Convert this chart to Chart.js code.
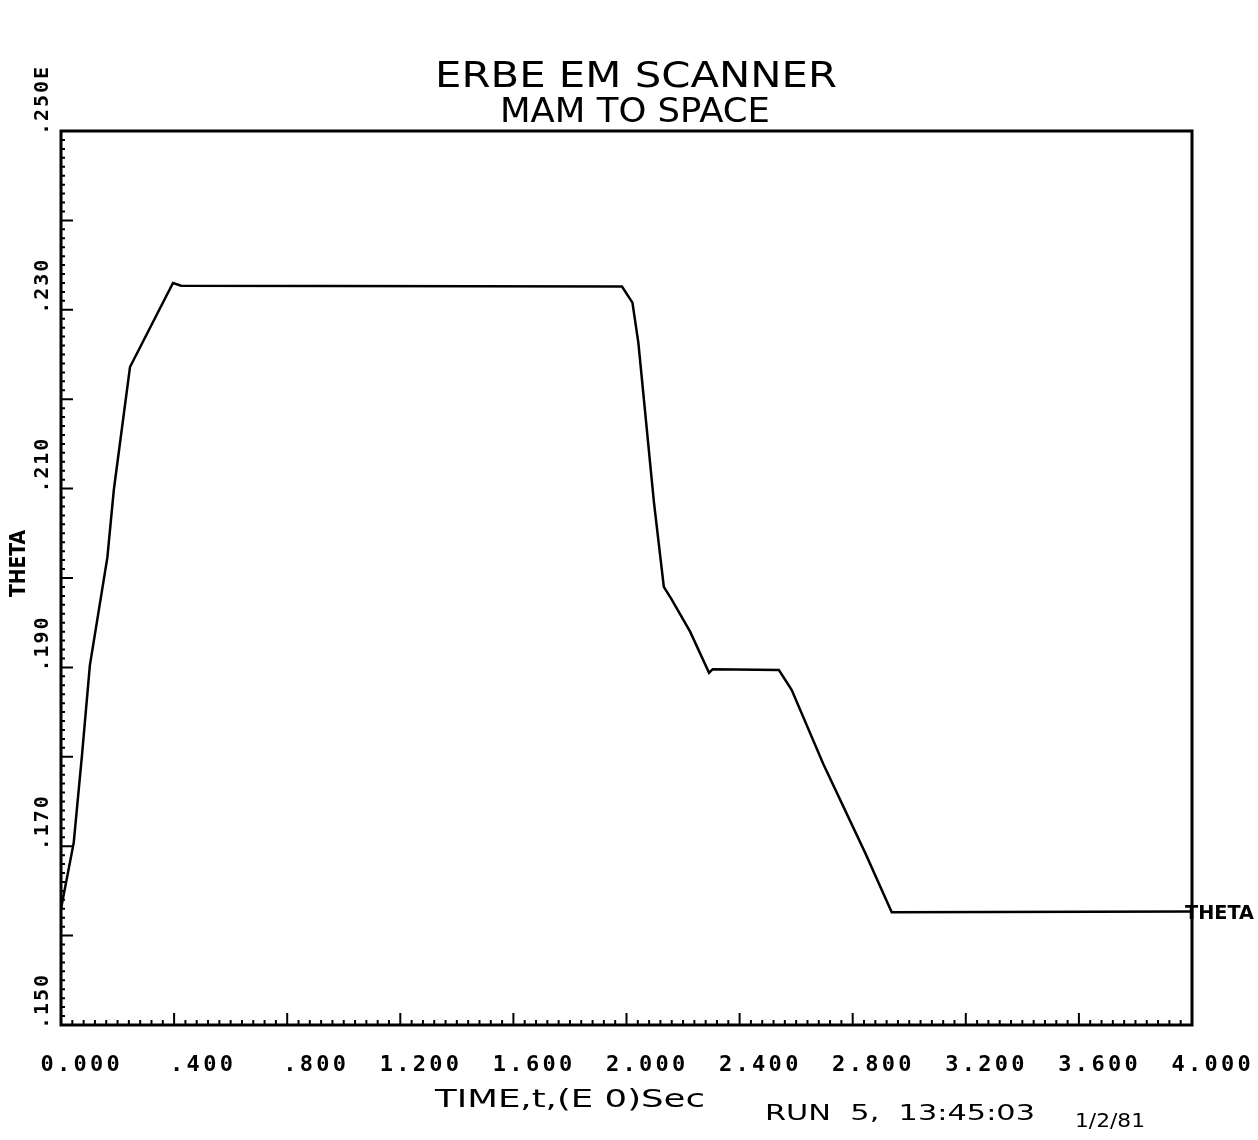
<!DOCTYPE html>
<html>
<head>
<meta charset="utf-8">
<script src="https://cdn.jsdelivr.net/npm/chart.js@4/dist/chart.umd.min.js"></script>
<style>
  body { margin: 0; background: #fff; }
  #wrap { width: 1258px; height: 1140px; position: relative; }
</style>
</head>
<body>
<div id="wrap"><canvas id="chart"></canvas></div>
<script>
// time (sec) and theta
const timeSec = [0, 0.045, 0.074, 0.102, 0.164, 0.187, 0.244, 0.396, 0.425, 1.984,
                 2.021, 2.042, 2.097, 2.132, 2.158, 2.225, 2.292, 2.305, 2.539, 2.584,
                 2.696, 2.845, 2.938, 4.000];
const theta = [0.1630, 0.1704, 0.1801, 0.1902, 0.2023, 0.2099, 0.2236, 0.2330, 0.2327, 0.2326,
               0.2308, 0.2263, 0.2085, 0.1990, 0.1977, 0.1940, 0.1894, 0.1898, 0.1897, 0.1875,
               0.1792, 0.1692, 0.1626, 0.1627];

const xTickValues = [0, 0.4, 0.8, 1.2, 1.6, 2.0, 2.4, 2.8, 3.2, 3.6, 4.0];
const xTickLabels = ['0.000', '.400', '.800', '1.200', '1.600', '2.000', '2.400', '2.800', '3.200', '3.600', '4.000'];
const yTickValues = [0.15, 0.17, 0.19, 0.21, 0.23, 0.25];
const yTickLabels = ['.150', '.170', '.190', '.210', '.230', '.250E'];

const titleText = 'ERBE EM SCANNER';
const subtitleText = 'MAM TO SPACE';
const yAxisTitle = 'THETA';
const xAxisTitle = 'TIME,t,(E 0)Sec';
const runText = 'RUN  5,  13:45:03';
const dateText = '1/2/81';
const seriesLabel = 'THETA';

// draw text char by char so it spans a given width
function spreadText(ctx, text, x, y, width) {
  const natural = ctx.measureText(text).width;
  const extra = text.length > 1 ? (width - natural) / (text.length - 1) : 0;
  let cx = x;
  for (const ch of text) {
    ctx.fillText(ch, cx, y);
    cx += ctx.measureText(ch).width + extra;
  }
}

// stretch glyphs horizontally to a given width (plotter lettering is wide)
function stretchText(ctx, text, x, y, width) {
  const natural = ctx.measureText(text).width;
  ctx.save();
  ctx.translate(x, y);
  ctx.scale(width / natural, 1);
  ctx.fillText(text, 0, 0);
  ctx.restore();
}

const plotterDecor = {
  id: 'plotterDecor',
  afterDraw(chart) {
    const ctx = chart.ctx;
    const area = chart.chartArea;
    const xs = chart.scales.x;
    const ys = chart.scales.y;
    ctx.save();
    ctx.fillStyle = '#000';
    ctx.strokeStyle = '#000';
    ctx.textAlign = 'left';
    ctx.textBaseline = 'alphabetic';

    // frame
    ctx.lineWidth = 3;
    ctx.strokeRect(area.left, area.top, area.right - area.left, area.bottom - area.top);

    // inward ticks, x: minor every 0.04, major every 0.4
    ctx.lineWidth = 2;
    ctx.beginPath();
    for (let i = 1; i < 100; i++) {
      const px = xs.getPixelForValue(i * 0.04);
      const len = i % 10 === 0 ? 12 : 5;
      ctx.moveTo(px, area.bottom);
      ctx.lineTo(px, area.bottom - len);
    }
    // y: minor every 0.001, major every 0.01
    for (let i = 1; i < 100; i++) {
      const py = ys.getPixelForValue(0.15 + i * 0.001);
      const len = i % 10 === 0 ? 12 : 4;
      ctx.moveTo(area.left, py);
      ctx.lineTo(area.left + len, py);
    }
    ctx.stroke();

    // x tick labels, decimal point on the tick
    ctx.font = 'bold 22px "DejaVu Sans Mono"';
    xTickValues.forEach((v, i) => {
      const lbl = xTickLabels[i];
      const px = xs.getPixelForValue(v);
      const charW = 16.6;
      const dot = lbl.indexOf('.');
      spreadText(ctx, lbl, px - dot * charW - 4, area.bottom + 46, charW * (lbl.length - 1) + 13);
    });

    // y tick labels, rotated, starting at the tick
    yTickValues.forEach((v, i) => {
      const lbl = yTickLabels[i];
      const py = ys.getPixelForValue(v);
      ctx.save();
      ctx.translate(area.left - 13, py + 4);
      ctx.rotate(-Math.PI / 2);
      ctx.font = 'bold 20px "DejaVu Sans Mono"';
      spreadText(ctx, lbl, 0, 0, 14 * (lbl.length - 1) + 12);
      ctx.restore();
    });

    // y axis title
    ctx.save();
    ctx.translate(25, 597);
    ctx.rotate(-Math.PI / 2);
    ctx.font = 'bold 21px "DejaVu Sans"';
    stretchText(ctx, yAxisTitle, 0, 0, 67);
    ctx.restore();

    // titles
    ctx.font = '35px "DejaVu Sans"';
    stretchText(ctx, titleText, 435, 87, 402);
    ctx.font = '33px "DejaVu Sans"';
    stretchText(ctx, subtitleText, 500, 122, 270);

    // x axis title and run stamp
    ctx.font = '24px "DejaVu Sans"';
    stretchText(ctx, xAxisTitle, 435, 1107, 270);
    ctx.font = '22px "DejaVu Sans"';
    stretchText(ctx, runText, 765, 1120, 270);
    ctx.font = '20px "DejaVu Sans"';
    stretchText(ctx, dateText, 1075, 1127, 70);

    // series label at the end of the line
    const last = theta.length - 1;
    ctx.font = 'bold 20px "DejaVu Sans"';
    stretchText(ctx, seriesLabel, xs.getPixelForValue(timeSec[last]) - 7,
                ys.getPixelForValue(theta[last]) + 8, 69);
    ctx.restore();
  }
};

const ctx = document.getElementById('chart').getContext('2d');
new Chart(ctx, {
  type: 'scatter',
  data: {
    datasets: [{
      label: seriesLabel,
      data: timeSec.map((t, i) => ({ x: t, y: theta[i] })),
      showLine: true,
      borderColor: '#000',
      borderWidth: 2.5,
      pointRadius: 0,
      tension: 0
    }]
  },
  options: {
    responsive: true,
    maintainAspectRatio: false,
    animation: false,
    layout: { padding: { left: 61, right: 66, top: 131, bottom: 115 } },
    plugins: { legend: { display: false }, tooltip: { enabled: false } },
    scales: {
      x: { type: 'linear', min: 0, max: 4, display: false },
      y: { type: 'linear', min: 0.15, max: 0.25, display: false }
    }
  },
  plugins: [plotterDecor]
});
</script>
</body>
</html>
